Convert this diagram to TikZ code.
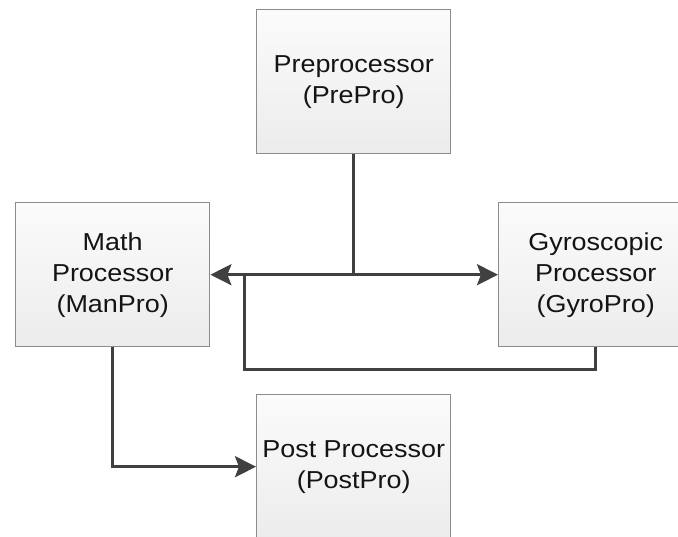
\documentclass[tikz,border=0pt]{standalone}
\usepackage{fontspec}
\setmainfont{Liberation Sans}[FakeStretch=1.1]
\usetikzlibrary{arrows.meta,calc}

\definecolor{wire}{HTML}{404040}
\definecolor{frame}{HTML}{8C8C8C}
\definecolor{fillTop}{HTML}{FBFBFB}
\definecolor{fillBot}{HTML}{ECECEC}

\tikzset{
  procbox/.style={draw=frame, line width=1.4pt, top color=fillTop, bottom color=fillBot,
    minimum width=194pt, minimum height=144pt, inner sep=0pt, anchor=north west,
    align=center, font=\fontsize{24.5pt}{31pt}\selectfont, text=black!92},
  wireline/.style={draw=wire, line width=3pt},
  tip/.style={-{Stealth[length=21pt,width=21pt,inset=4pt]}}
}

\begin{document}
\begin{tikzpicture}[x=1pt,y=-1pt]
  \useasboundingbox (0,0) rectangle (678,536);
  \clip (0,0) rectangle (678,536);

  % processor blocks
  \node[procbox] (pre)  at (256,9)   {Preprocessor\\(PrePro)};
  \node[procbox] (math) at (15,202)  {Math\\Processor\\(ManPro)};
  \node[procbox] (gyro) at (498,202) {Gyroscopic\\Processor\\(GyroPro)};
  \node[procbox] (post) at (256,394) {Post Processor\\(PostPro)};

  % junction points of the bus
  \coordinate (split) at (pre.south |- math.east);
  \coordinate (back)  at (244,369);

  % preprocessor feeds both sides
  \draw[wireline] (pre.south) -- (split);
  \draw[wireline,tip] (split) -- (math.east);
  \draw[wireline,tip] (split) -- (gyro.west);

  % gyroscopic feedback into the bus
  \draw[wireline] (gyro.south) |- (back) -- (back |- math.east);

  % math output to the post processor
  \draw[wireline,tip] (math.south) |- (post.west);
\end{tikzpicture}
\end{document}
